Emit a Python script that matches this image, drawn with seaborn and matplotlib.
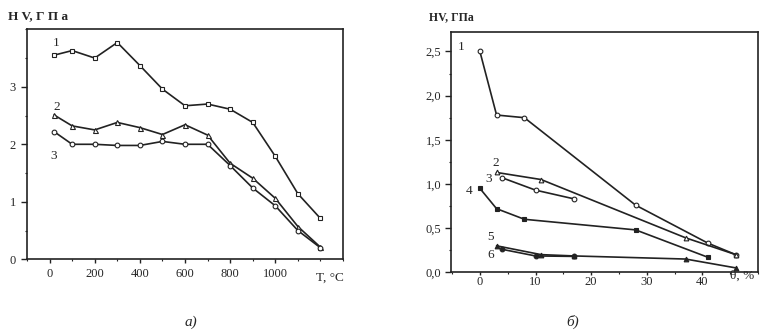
import numpy as np
import pandas as pd
import matplotlib
matplotlib.use('Agg')
import matplotlib.pyplot as plt
import seaborn as sns
from matplotlib.ticker import FixedLocator, FixedFormatter, MultipleLocator

# DATA - panel a) hardness vs annealing temperature

temp = [20, 100, 200, 300, 400, 500, 600, 700, 800, 900, 1000, 1100, 1200]
hv_a1 = [3.55, 3.63, 3.50, 3.77, 3.37, 2.96, 2.67, 2.70, 2.61, 2.38, 1.79, 1.14, 0.71]
hv_a2 = [2.51, 2.32, 2.25, 2.38, 2.29, 2.17, 2.34, 2.16, 1.67, 1.41, 1.06, 0.57, 0.21]
hv_a3 = [2.22, 2.00, 2.00, 1.98, 1.98, 2.05, 2.00, 2.00, 1.63, 1.24, 0.93, 0.50, 0.20]

# DATA - panel b) hardness vs deformation

theta_1 = [0, 3, 8, 28, 41, 46]
hv_b1 = [2.50, 1.78, 1.75, 0.76, 0.33, 0.20]
theta_2 = [3, 11, 37, 46]
hv_b2 = [1.13, 1.05, 0.39, 0.20]
theta_3 = [4, 10, 17]
hv_b3 = [1.07, 0.93, 0.83]
theta_4 = [0, 3, 8, 28, 41]
hv_b4 = [0.95, 0.72, 0.60, 0.48, 0.17]
theta_5 = [3, 11, 17, 37, 46]
hv_b5 = [0.30, 0.20, 0.185, 0.15, 0.05]
theta_6 = [4, 10, 17]
hv_b6 = [0.26, 0.185, 0.18]

a_xticks = [0, 200, 400, 600, 800, 1000]
a_yticks = [0, 1, 2, 3]
b_xticks = [0, 10, 20, 30, 40]
b_yticks = [0.0, 0.5, 1.0, 1.5, 2.0, 2.5]
b_yticklabels = ['0,0', '0,5', '1,0', '1,5', '2,0', '2,5']

sns.set_style('ticks')
plt.rcParams['font.family'] = ['Liberation Serif', 'DejaVu Serif']

ink = '#222222'
fig = plt.figure(figsize=(7.65, 3.36), dpi=100)
ax1 = fig.add_axes([0.0353, 0.2283, 0.4131, 0.6845])
ax2 = fig.add_axes([0.5895, 0.1896, 0.4013, 0.7152])

# panel a)
for y, m, ms in [(hv_a1, 's', 3.0), (hv_a2, '^', 3.6), (hv_a3, 'o', 3.4)]:
    sns.lineplot(x=temp, y=y, ax=ax1, color=ink, lw=1.2, marker=m, ms=ms,
                 mfc='white', mec=ink, mew=0.8)

ax1.set_xlim(-100, 1300)
ax1.set_ylim(0, 4)
ax1.xaxis.set_major_locator(FixedLocator(a_xticks))
ax1.yaxis.set_major_locator(FixedLocator(a_yticks))
ax1.xaxis.set_minor_locator(MultipleLocator(100))
ax1.yaxis.set_minor_locator(MultipleLocator(0.5))

ax1.text(30, 3.76, '1', fontsize=9.5, ha='center', va='center')
ax1.text(30, 2.64, '2', fontsize=9.5, ha='center', va='center')
ax1.text(18, 1.80, '3', fontsize=9.5, ha='center', va='center')
ax1.text(-0.06, 1.055, 'H V, Г П а', transform=ax1.transAxes, fontsize=9.5,
         weight='bold', ha='left', va='center')
ax1.text(0.96, -0.08, 'T, °C', transform=ax1.transAxes, fontsize=9.5, ha='center', va='center')

# panel b)
b_series = [
    (theta_1, hv_b1, 'o', 'white'),
    (theta_2, hv_b2, '^', 'white'),
    (theta_3, hv_b3, 'o', 'white'),
    (theta_4, hv_b4, 's', ink),
    (theta_5, hv_b5, '^', ink),
    (theta_6, hv_b6, 'o', ink),
]
for x, y, m, fc in b_series:
    sns.lineplot(x=x, y=y, ax=ax2, color=ink, lw=1.2, marker=m,
                 ms=3.0 if m == 's' else 3.4, mfc=fc, mec=ink, mew=0.8)

ax2.set_xlim(-5.2, 50)
ax2.set_ylim(0, 2.72)
ax2.xaxis.set_major_locator(FixedLocator(b_xticks))
ax2.yaxis.set_major_locator(FixedLocator(b_yticks))
ax2.yaxis.set_major_formatter(FixedFormatter(b_yticklabels))
ax2.xaxis.set_minor_locator(MultipleLocator(5))
ax2.yaxis.set_minor_locator(MultipleLocator(0.25))

for lbl, x, y in [('1', -3.3, 2.55), ('2', 2.9, 1.24), ('3', 1.5, 1.06),
                  ('4', -1.9, 0.92), ('5', 1.9, 0.40), ('6', 1.9, 0.20)]:
    ax2.text(x, y, lbl, fontsize=9.5, ha='center', va='center')
ax2.text(-0.072, 1.062, 'HV, ГПа', transform=ax2.transAxes, fontsize=8.5,
         weight='bold', ha='left', va='center')
ax2.text(0.95, -0.015, 'θ, %', transform=ax2.transAxes, fontsize=9.5, ha='center', va='center')

for ax in (ax1, ax2):
    for s in ax.spines.values():
        s.set_color(ink)
        s.set_linewidth(1.2)
    ax.tick_params(which='major', length=4, width=1, color=ink, labelsize=9, pad=4)
    ax.tick_params(which='minor', length=1.5, width=0.8, color=ink)
    ax.set_xlabel('')
    ax.set_ylabel('')

ax1.tick_params(axis='x', which='major', length=3, pad=3)
ax2.tick_params(axis='x', which='major', length=2, pad=1)
ax2.tick_params(axis='y', which='major', pad=3)

fig.text(0.250, 0.042, 'a)', fontsize=11, style='italic', ha='center', va='center')
fig.text(0.748, 0.042, 'б)', fontsize=11, style='italic', ha='center', va='center')

fig.savefig('out.png', dpi=100)
